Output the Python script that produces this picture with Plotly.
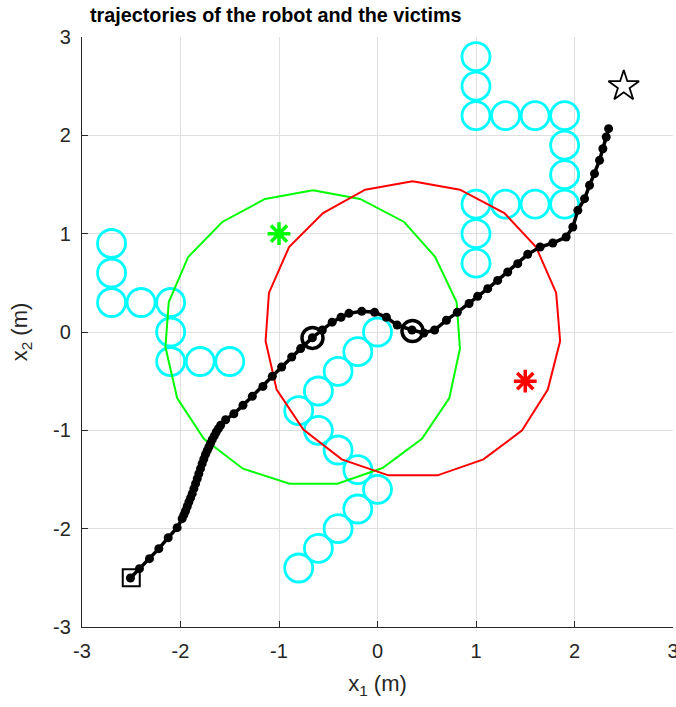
import plotly.graph_objects as go

# Obstacles (cyan circles)
obs_x = [-2.7, -2.7, -2.7, -2.4, -2.1, -2.1, -2.1, -1.8, -1.5,
         1.0, 1.0, 1.0, 1.3, 1.6, 1.9, 1.9, 1.9, 1.9, 1.6, 1.3, 1.0, 1.0, 1.0,
         0.0, -0.2, -0.4, -0.6, -0.8, -0.6, -0.4, -0.2, 0.0, -0.2, -0.4, -0.6, -0.8]
obs_y = [0.9, 0.6, 0.3, 0.3, 0.3, 0.0, -0.3, -0.3, -0.3,
         2.8, 2.5, 2.2, 2.2, 2.2, 2.2, 1.9, 1.6, 1.3, 1.3, 1.3, 1.3, 1.0, 0.7,
         0.0, -0.2, -0.4, -0.6, -0.8, -1.0, -1.2, -1.4, -1.6, -1.8, -2.0, -2.2, -2.4]

# Sensing region at first detection (green)
green_x = [-0.654, -0.176, 0.271, 0.586, 0.803, 0.837, 0.729, 0.451, 0.051, -0.407,
           -0.892, -1.366, -1.763, -2.034, -2.153, -2.119, -1.922, -1.576, -1.142, -0.654]
green_y = [1.441, 1.353, 1.119, 0.763, 0.305, -0.169, -0.671, -1.085, -1.383, -1.542,
           -1.542, -1.390, -1.085, -0.671, -0.153, 0.305, 0.763, 1.119, 1.353, 1.441]

# Sensing region at second detection (red)
red_x = [0.356, 0.837, 1.288, 1.610, 1.814, 1.854, 1.729, 1.468, 1.075, 0.610,
         0.112, -0.363, -0.753, -1.024, -1.136, -1.102, -0.898, -0.553, -0.125, 0.356]
red_y = [1.532, 1.447, 1.210, 0.864, 0.397, -0.092, -0.586, -1.000, -1.295, -1.458,
         -1.458, -1.295, -0.993, -0.586, -0.092, 0.397, 0.864, 1.210, 1.447, 1.532]

# Robot trajectory
traj_x = [-2.508, -2.417, -2.315, -2.220, -2.125, -2.034, -1.983, -1.966, -1.949, -1.932,
          -1.915, -1.898, -1.881, -1.864, -1.847, -1.830, -1.814, -1.797, -1.780, -1.763,
          -1.746, -1.729, -1.712, -1.695, -1.678, -1.657, -1.637, -1.615, -1.593, -1.542,
          -1.458, -1.366, -1.271, -1.163, -1.068, -0.973, -0.871, -0.780, -0.661, -0.56,
          -0.46, -0.37, -0.29, -0.16, -0.03, 0.09, 0.20, 0.35, 0.47, 0.58,
          0.70, 0.81, 0.93, 1.017, 1.119, 1.220, 1.322, 1.424, 1.525, 1.651,
          1.780, 1.915, 1.983, 2.034, 2.102, 2.153, 2.203, 2.254, 2.288, 2.322, 2.346]
traj_y = [-2.502, -2.407, -2.305, -2.203, -2.092, -1.990, -1.898, -1.860, -1.820, -1.775,
          -1.729, -1.687, -1.644, -1.593, -1.542, -1.492, -1.441, -1.390, -1.339, -1.292,
          -1.244, -1.207, -1.169, -1.132, -1.095, -1.056, -1.017, -0.983, -0.949, -0.892,
          -0.831, -0.746, -0.654, -0.553, -0.451, -0.356, -0.254, -0.169, -0.058, 0.02,
          0.10, 0.15, 0.19, 0.21, 0.20, 0.15, 0.07, 0.02, -0.01, 0.02,
          0.12, 0.20, 0.29, 0.363, 0.441, 0.525, 0.610, 0.695, 0.790, 0.864,
          0.905, 0.966, 1.068, 1.237, 1.356, 1.492, 1.610, 1.746, 1.864, 1.983, 2.068]

# Robot positions when victims were detected
det_x = [-0.66, 0.355]
det_y = [-0.06, 0.01]

# Victims
victim_x = [-1.0, 1.5]
victim_y = [1.0, -0.5]
victim_colors = ["#00FF00", "#FF0000"]

# Start and goal
start_x, start_y = [-2.5], [-2.5]
goal_x, goal_y = [2.5], [2.5]

ticks = [-3, -2, -1, 0, 1, 2, 3]

FONT = "Liberation Sans, Arial, Helvetica"

fig = go.Figure()
fig.add_trace(go.Scatter(x=obs_x, y=obs_y, mode="markers",
                         marker=dict(symbol="circle-open", size=28,
                                     line=dict(color="#00FFFF", width=2.8), color="#00FFFF")))
fig.add_trace(go.Scatter(x=green_x, y=green_y, mode="lines",
                         line=dict(color="#00FF00", width=2)))
fig.add_trace(go.Scatter(x=red_x, y=red_y, mode="lines",
                         line=dict(color="#FF0000", width=2)))
fig.add_trace(go.Scatter(x=traj_x, y=traj_y, mode="lines+markers",
                         line=dict(color="black", width=3.5),
                         marker=dict(symbol="circle", size=9, color="black")))
fig.add_trace(go.Scatter(x=det_x, y=det_y, mode="markers",
                         marker=dict(symbol="circle-open", size=21, color="black",
                                     line=dict(color="black", width=3.5))))
for vx, vy, c in zip(victim_x, victim_y, victim_colors):
    fig.add_trace(go.Scatter(x=[vx], y=[vy], mode="markers",
                             marker=dict(symbol="asterisk-open", size=19, color=c,
                                         line=dict(color=c, width=3.5))))
fig.add_trace(go.Scatter(x=start_x, y=start_y, mode="markers",
                         marker=dict(symbol="square-open", size=17, color="black",
                                     line=dict(color="black", width=2))))
fig.add_trace(go.Scatter(x=goal_x, y=goal_y, mode="markers",
                         marker=dict(symbol="star-open", size=23, color="black",
                                     line=dict(color="black", width=1.8))))

axis_common = dict(range=[-3, 3], tickvals=ticks, ticktext=[str(t) for t in ticks],
                   automargin=False, ticklabeloverflow="allow", ticklabelstandoff=6,
                   showgrid=True, gridcolor="#DFDFDF", gridwidth=1, zeroline=False,
                   showline=True, linecolor="#262626", linewidth=1.2,
                   ticks="inside", ticklen=6, tickcolor="#262626",
                   tickfont=dict(family=FONT, size=20, color="#262626"))

fig.update_layout(
    width=676, height=707,
    margin=dict(l=82, r=3, t=37, b=80, autoexpand=False),
    plot_bgcolor="white", paper_bgcolor="white",
    showlegend=False,
    title=dict(text="<b>trajectories of the robot and the victims</b>",
               x=90 / 676, xanchor="left", xref="container",
               y=1 - 15 / 707, yanchor="middle", yref="container",
               font=dict(family=FONT, size=19.8, color="black")),
    xaxis=dict(**axis_common,
               title=dict(text="x<sub>1</sub> (m)", standoff=14,
                          font=dict(family=FONT, size=22, color="#262626"))),
    yaxis=dict(**axis_common,
               title=dict(text="x<sub>2</sub> (m)", standoff=19,
                          font=dict(family=FONT, size=22, color="#262626"))),
)

fig.write_html("out.html", config={"displayModeBar": False},
               post_script="document.body.style.margin='0px';document.body.style.overflow='hidden';")
